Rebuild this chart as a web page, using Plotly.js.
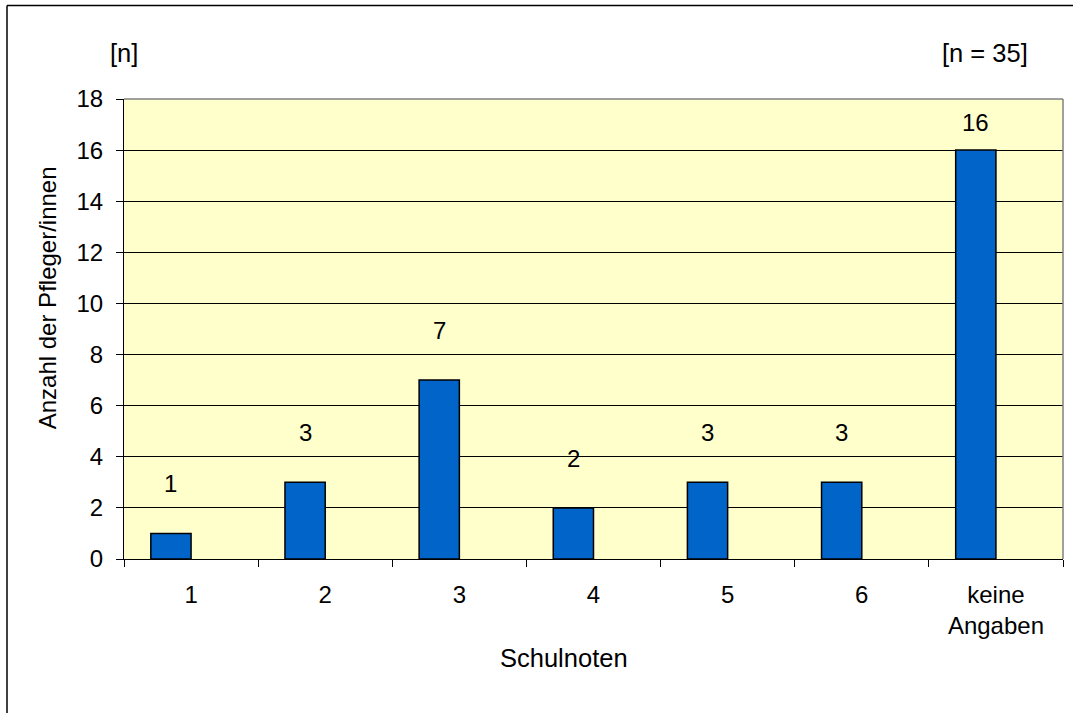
<!DOCTYPE html>
<html>
<head>
<meta charset="utf-8">
<script src="https://cdn.plot.ly/plotly-3.0.1.min.js"></script>
<style>html,body{margin:0;padding:0;background:#fff;}#chart{width:1073px;height:713px;}</style>
</head>
<body>
<div id="chart"></div>
<script>
// Data
const categories = ["1", "2", "3", "4", "5", "6", "keine<br>Angaben"];
const counts = [1, 3, 7, 2, 3, 3, 16];
const yTickValues = [0, 2, 4, 6, 8, 10, 12, 14, 16, 18];

const W = 1073, H = 713;
const L = 124, T = 98.5, R = 10, B = 154;
const pw = W - L - R, ph = H - T - B;
const px = x => (x - L) / pw;
const py = y => (H - B - y) / ph;
const FONT = "Liberation Sans, Arial, sans-serif";
const FS = 24;     // tick labels / value labels
const FT = 25.5;   // titles and notes

const BAR_W = 0.3;
const trace = {
  type: "bar",
  x: categories,
  y: counts,
  width: BAR_W,
  offset: -BAR_W,
  marker: { color: "#0064C8", line: { color: "#000000", width: 1.5 } },
  hoverinfo: "x+y"
};

const valueLabels = counts.map((v, i) => ({
  x: i - BAR_W / 2, y: Math.min(v + 1.95, 17.1), xref: "x", yref: "y",
  text: String(v), showarrow: false, yanchor: "middle",
  font: { family: FONT, size: FS, color: "#000" }
}));

const layout = {
  width: W, height: H,
  margin: { l: L, r: R, t: T, b: B, pad: 0 },
  paper_bgcolor: "#ffffff",
  plot_bgcolor: "#FFFFCC",
  showlegend: false,
  font: { family: FONT, size: FS, color: "#000" },
  xaxis: {
    type: "category",
    tickson: "boundaries",
    ticks: "outside", ticklen: 7, tickcolor: "#000", tickwidth: 1,
    showline: true, linecolor: "#000", linewidth: 1,
    showgrid: false, zeroline: false,
    tickfont: { family: FONT, size: FS, color: "#000" },
    ticklabelstandoff: 14,
    fixedrange: true
  },
  yaxis: {
    range: [0, 18],
    tickvals: yTickValues,
    ticktext: yTickValues.map(String),
    ticks: "outside", ticklen: 7, tickcolor: "#000", tickwidth: 1,
    showline: true, linecolor: "#000", linewidth: 1,
    showgrid: true, gridcolor: "#000", gridwidth: 1,
    zeroline: false,
    tickfont: { family: FONT, size: FS, color: "#000" },
    ticklabelstandoff: 8,
    fixedrange: true
  },
  shapes: [
    { type: "line", xref: "paper", yref: "paper", x0: 0, x1: 1, y0: 1, y1: 1, line: { color: "#808080", width: 1.5 } },
    { type: "line", xref: "paper", yref: "paper", x0: 1, x1: 1, y0: 0, y1: 1, line: { color: "#808080", width: 1.5 } },
    { type: "line", xref: "paper", yref: "paper", x0: px(7), x1: px(7), y0: py(5), y1: py(720), line: { color: "#000", width: 1.5 } },
    { type: "line", xref: "paper", yref: "paper", x0: px(7), x1: px(1080), y0: py(5), y1: py(5), line: { color: "#000", width: 1.5 } }
  ],
  annotations: valueLabels.concat([
    { xref: "paper", yref: "paper", x: px(124), y: py(52), text: "[n]", showarrow: false,
      xanchor: "center", yanchor: "middle", font: { family: FONT, size: FT, color: "#000" } },
    { xref: "paper", yref: "paper", x: px(985), y: py(52), text: "[n = 35]", showarrow: false,
      xanchor: "center", yanchor: "middle", font: { family: FONT, size: FT, color: "#000" } },
    { xref: "paper", yref: "paper", x: px(564), y: py(658), text: "Schulnoten", showarrow: false,
      xanchor: "center", yanchor: "middle", font: { family: FONT, size: FT, color: "#000" } },
    { xref: "paper", yref: "paper", x: px(47), y: py(298), text: "Anzahl der Pfleger/innen", showarrow: false,
      textangle: -90, xanchor: "center", yanchor: "middle", font: { family: FONT, size: FS, color: "#000" } }
  ])
};

Plotly.newPlot("chart", [trace], layout, { displayModeBar: false, staticPlot: true });
</script>
</body>
</html>
